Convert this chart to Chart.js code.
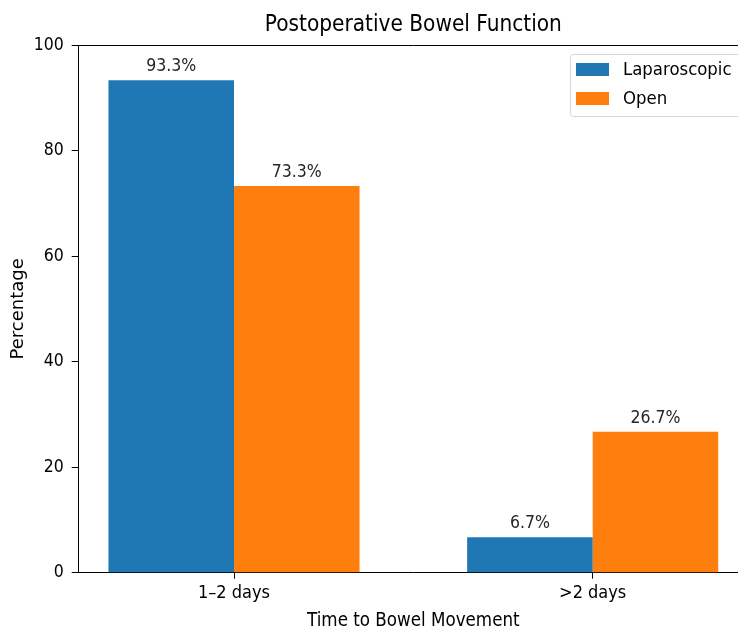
<!DOCTYPE html>
<html>
<head>
<meta charset="utf-8">
<script src="https://cdn.jsdelivr.net/npm/chart.js@4.4.1/dist/chart.umd.min.js"></script>
<style>
html,body{margin:0;padding:0;background:#fff;overflow:hidden;width:738px;height:627px;}
#wrap{width:760px;height:632px;}
</style>
</head>
<body>
<div id="wrap"><canvas id="c" width="760" height="632"></canvas></div>
<script>
const categories = ['1–2 days', '>2 days'];
const laparoscopic = [93.3, 6.7];
const open = [73.3, 26.7];
const seriesNames = ['Laparoscopic', 'Open'];
const yTicks = [0, 20, 40, 60, 80, 100];

const FONT = "'DejaVu Sans Condensed', 'DejaVu Sans', sans-serif";
const FONT_N = "'DejaVu Sans', sans-serif";
const BASE = 17.5;

const toPoints = arr => arr.map((v, i) => ({x: i, y: v}));

const decor = {
  id: 'decor',
  afterDatasetsDraw(chart) {
    const ctx = chart.ctx;
    const a = chart.chartArea;
    ctx.save();
    // top spine
    ctx.strokeStyle = '#000';
    ctx.lineWidth = 1;
    ctx.beginPath();
    ctx.moveTo(a.left, a.top + 0.5);
    ctx.lineTo(a.right, a.top + 0.5);
    ctx.stroke();
    // value labels
    ctx.fillStyle = '#262626';
    ctx.font = BASE + 'px ' + FONT;
    ctx.textAlign = 'center';
    ctx.textBaseline = 'alphabetic';
    chart.data.datasets.forEach((ds, di) => {
      const meta = chart.getDatasetMeta(di);
      meta.data.forEach((bar, i) => {
        ctx.fillText(ds.data[i].y.toFixed(1) + '%', bar.x, bar.y - 9);
      });
    });
    // title
    ctx.fillStyle = '#000';
    ctx.font = '22.4px ' + FONT;
    ctx.textBaseline = 'alphabetic';
    ctx.fillText('Postoperative Bowel Function', (a.left + a.right) / 2, 31);
    // legend
    const lx = 570.5, ly = 54.5, lw = 190, lh = 62;
    ctx.fillStyle = 'rgba(255,255,255,0.8)';
    ctx.strokeStyle = '#d6d6d6';
    ctx.lineWidth = 1;
    ctx.beginPath();
    ctx.roundRect(lx, ly, lw, lh, 3);
    ctx.fill();
    ctx.stroke();
    const colors = ['#1f77b4', '#ff7f0e'];
    seriesNames.forEach((n, i) => {
      const y = 63 + i * 29;
      ctx.fillStyle = colors[i];
      ctx.fillRect(576, y, 33, 13);
      ctx.fillStyle = '#000';
      ctx.font = '18.4px ' + FONT;
      ctx.textAlign = 'left';
      ctx.textBaseline = 'middle';
      ctx.fillText(n, 623, y + 7);
    });
    ctx.restore();
  }
};

new Chart(document.getElementById('c'), {
  type: 'bar',
  data: {
    datasets: [
      {label: seriesNames[0], data: toPoints(laparoscopic), backgroundColor: '#1f77b4', borderWidth: 0},
      {label: seriesNames[1], data: toPoints(open), backgroundColor: '#ff7f0e', borderWidth: 0}
    ]
  },
  options: {
    responsive: false,
    animation: false,
    devicePixelRatio: 1,
    categoryPercentage: 0.7,
    barPercentage: 1.0,
    layout: {padding: {top: 45, left: 0, right: 12, bottom: 0}},
    plugins: {legend: {display: false}, title: {display: false}, tooltip: {enabled: false}},
    scales: {
      x: {
        type: 'linear',
        offset: false,
        min: -0.433,
        max: 1.433,
        afterBuildTicks: s => { s.ticks = categories.map((c, i) => ({value: i})); },
        afterFit: s => { s.height = 632 - 572.7; },
        ticks: {
          autoSkip: false,
          callback: v => categories[v],
          color: '#000',
          font: {family: FONT, size: 18},
          padding: 4,
          maxRotation: 0
        },
        grid: {display: true, offset: false, drawOnChartArea: false, drawTicks: true, tickLength: 6, color: '#000', tickColor: '#000'},
        border: {display: true, color: '#000', width: 1},
        title: {display: true, text: 'Time to Bowel Movement', color: '#000', font: {family: FONT, size: 18.6}, padding: {top: 8, bottom: 0}}
      },
      y: {
        min: 0,
        max: 100,
        afterBuildTicks: s => { s.ticks = yTicks.map(v => ({value: v})); },
        afterFit: s => { s.width = 78.7; },
        ticks: {color: '#000', font: {family: FONT, size: BASE}, padding: 8},
        grid: {display: true, drawOnChartArea: false, drawTicks: true, tickLength: 7, color: '#000', tickColor: '#000'},
        border: {display: true, color: '#000', width: 1},
        title: {display: true, text: 'Percentage', color: '#000', font: {family: FONT_N, size: 18}, padding: {top: 8, bottom: 0}}
      }
    }
  },
  plugins: [decor]
});
</script>
</body>
</html>
